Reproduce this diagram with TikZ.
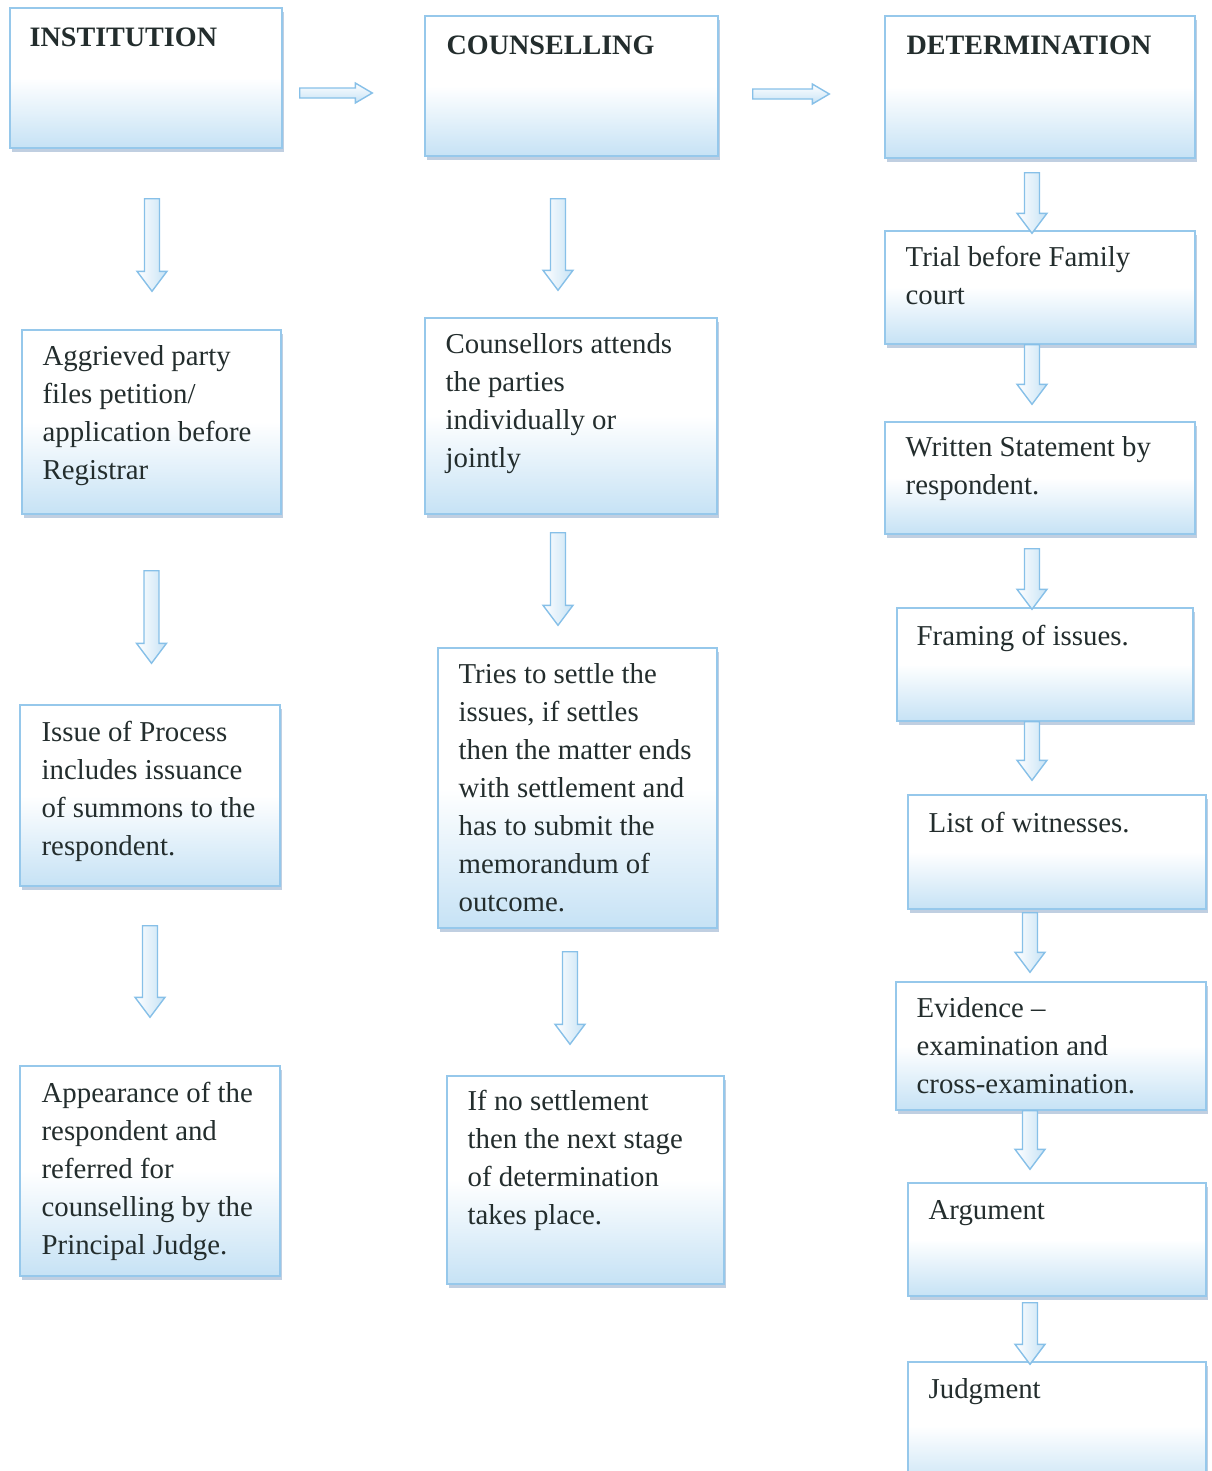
\documentclass[tikz,border=0pt]{standalone}
\usepackage{fontspec}
\setmainfont{Liberation Serif}
\usetikzlibrary{calc,fit,shadows}

\definecolor{boxline}{RGB}{150,200,235}
\definecolor{boxfill}{RGB}{198,226,245}
\definecolor{boxshadow}{RGB}{150,175,205}
\definecolor{arrowline}{RGB}{135,192,232}
\definecolor{inktext}{RGB}{35,45,45}

\tikzset{
  stagebox/.style={draw=boxline, line width=0.8pt, inner sep=0pt,
    top color=white, bottom color=boxfill, middle color=white,
    drop shadow={shadow xshift=1.2pt, shadow yshift=-2pt, fill=boxshadow, opacity=0.6}},
  stagetext/.style={anchor=base west, align=left, inner sep=0pt, text=inktext,
    font=\fontsize{16.4}{21.6}\selectfont},
  headtext/.style={stagetext, font=\fontsize{16}{21.6}\selectfont\bfseries},
  blockarrow/.style={draw=arrowline, line width=0.8pt, left color=white, right color=boxfill},
  sidearrow/.style={draw=arrowline, line width=0.8pt, top color=white, bottom color=boxfill}
}

% block arrow pointing down, from #1 to the height of #2
\newcommand{\downblock}[2]{%
  \draw[blockarrow] let \p1=(#1), \p2=(#2) in
    (\x1-0.15cm,\y1) -- (\x1+0.15cm,\y1) -- (\x1+0.15cm,\y2+0.4cm) -- (\x1+0.3cm,\y2+0.4cm)
    -- (\x1,\y2) -- (\x1-0.3cm,\y2+0.4cm) -- (\x1-0.15cm,\y2+0.4cm) -- cycle;}
% block arrow pointing right, from #1 to the abscissa of #2
\newcommand{\rightblock}[2]{%
  \draw[sidearrow] let \p1=(#1), \p2=(#2) in
    (\x1,\y1+0.1cm) -- (\x2-0.34cm,\y1+0.1cm) -- (\x2-0.34cm,\y1+0.2cm) -- (\x2,\y1)
    -- (\x2-0.34cm,\y1-0.2cm) -- (\x2-0.34cm,\y1-0.1cm) -- (\x1,\y1-0.1cm) -- cycle;}

\begin{document}
\begin{tikzpicture}[x=0.02cm, y=-0.02cm]
  \useasboundingbox (0,0) rectangle (1212,1471);
  \clip (0,0) rectangle (1212,1471);

  % Boxes
  \foreach \name/\xa/\ya/\xb/\yb in {inst/10/8/282/148, agg/22/330/281/514,
      issue/20/705/280/886, appear/20/1066/280/1276,
      couns/425/16/718/156, attend/425/318/717/514,
      tries/438/648/717/928, ifno/447/1076/724/1284,
      determ/885/16/1195/158, trial/885/231/1195/344,
      written/885/422/1195/534, framing/897/608/1193/721,
      witness/908/795/1206/909, evid/896/982/1206/1110,
      argum/908/1183/1206/1296, judg/908/1362/1206/1490} {
    \node[stagebox, fit={(\xa,\ya) (\xb,\yb)}] (\name) {};
  }

  % Texts (anchored at the baseline of the last line, 38 units per line)
  \node[headtext] (instT) at ($(inst.north west)+(20,39)$) {INSTITUTION};
  \node[headtext] (counsT) at ($(couns.north west)+(22,39)$) {COUNSELLING};
  \node[headtext] (determT) at ($(determ.north west)+(22,39)$) {DETERMINATION};

  \node[stagetext] (aggT) at ($(agg.north west)+(21,150)$)
    {Aggrieved party\\files petition/\\application before\\Registrar};
  \node[stagetext] (issueT) at ($(issue.north west)+(22,151)$)
    {Issue of Process\\includes issuance\\of summons to the\\respondent.};
  \node[stagetext] (appearT) at ($(appear.north west)+(22,189)$)
    {Appearance of the\\respondent and\\referred for\\counselling by the\\Principal Judge.};
  \node[stagetext] (attendT) at ($(attend.north west)+(21,150)$)
    {Counsellors attends\\the parties\\individually or\\jointly};
  \node[stagetext] (triesT) at ($(tries.north west)+(21,264)$)
    {Tries to settle the\\issues, if settles\\then the matter ends\\with settlement and\\has to submit the\\memorandum of\\outcome.};
  \node[stagetext] (ifnoT) at ($(ifno.north west)+(21,149)$)
    {If no settlement\\then the next stage\\of determination\\takes place.};
  \node[stagetext] (trialT) at ($(trial.north west)+(21,74)$) {Trial before Family\\court};
  \node[stagetext] (writtenT) at ($(written.north west)+(21,73)$) {Written Statement by\\respondent.};
  \node[stagetext] (framingT) at ($(framing.north west)+(20,38)$) {Framing of issues.};
  \node[stagetext] (witnessT) at ($(witness.north west)+(21,38)$) {List of witnesses.};
  \node[stagetext] (evidT) at ($(evid.north west)+(21,112)$)
    {Evidence --\\examination and\\cross-examination.};
  \node[stagetext] (argumT) at ($(argum.north west)+(21,37)$) {Argument};
  \node[stagetext] (judgT) at ($(judg.north west)+(21,37)$) {Judgment};

  % Arrows between the stages
  \rightblock{$(inst.east)+(17,15)$}{$(couns.west)+(-52,0)$}
  \rightblock{$(couns.east)+(34,8)$}{$(determ.west)+(-55,0)$}

  \downblock{$(inst.south)+(6,50)$}{$(agg.north)+(0,-38)$}
  \downblock{$(agg.south)+(0,56)$}{$(issue.north)+(0,-41)$}
  \downblock{$(issue.south)+(0,39)$}{$(appear.north)+(0,-48)$}

  \downblock{$(couns.south)+(-13.5,42)$}{$(attend.north)+(0,-27)$}
  \downblock{$(attend.south)+(-13,18)$}{$(tries.north)+(0,-22)$}
  \downblock{$(tries.south)+(-7.5,23)$}{$(ifno.north)+(0,-31)$}

  \downblock{$(determ.south)+(-8,14)$}{$(trial.north)+(0,3)$}
  \downblock{$(trial.south)+(-8,0)$}{$(written.north)+(0,-17)$}
  \downblock{$(written.south)+(-8,14)$}{$(framing.north)+(0,2)$}
  \downblock{$(framing.south)+(-13,0)$}{$(witness.north)+(0,-14)$}
  \downblock{$(witness.south)+(-27,3)$}{$(evid.north)+(0,-9)$}
  \downblock{$(evid.south)+(-21,0)$}{$(argum.north)+(0,-13)$}
  \downblock{$(argum.south)+(-27,6)$}{$(judg.north)+(0,3)$}
\end{tikzpicture}
\end{document}
